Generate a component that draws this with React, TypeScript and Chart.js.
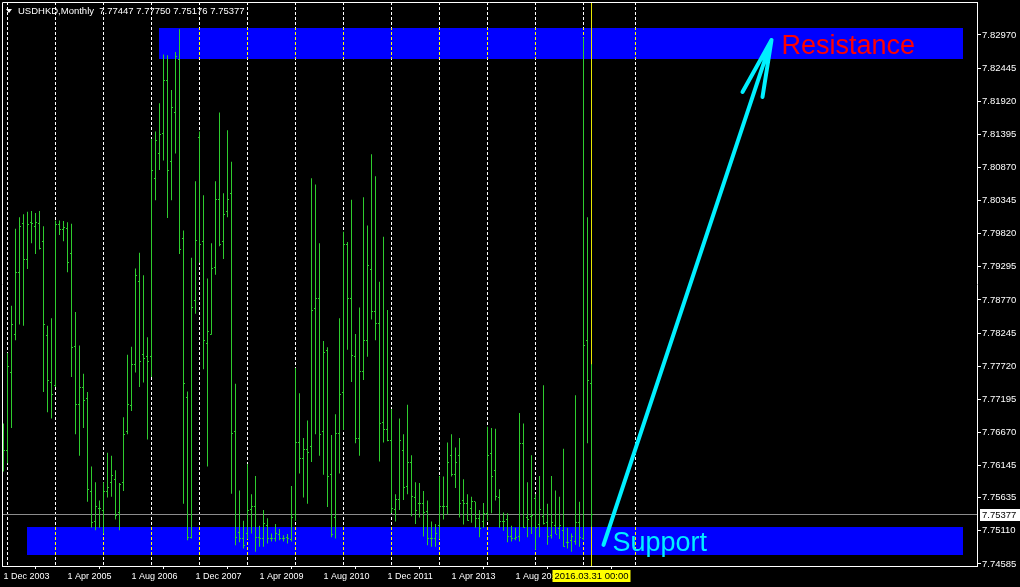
import React, { useEffect, useRef } from "react";
import { Chart, registerables } from "chart.js";

Chart.register(...registerables);

// ---------- DATA ----------
const symbolName = "USDHKD,Monthly";

// monthly bars, index 0 = Dec 2003, index 147 = Mar 2016
const opens = [
  7.7638, 7.7638, 7.7762, 7.7822, 7.7921, 7.7998, 7.7941, 7.8000, 7.7994, 7.7998,
  7.7969, 7.7820, 7.7746, 7.7741, 7.7997, 7.7989, 7.7990, 7.7950, 7.7803, 7.7711,
  7.7739, 7.7721, 7.7574, 7.7526, 7.7547, 7.7544, 7.7574, 7.7588, 7.7592, 7.7540,
  7.7587, 7.7669, 7.7709, 7.7774, 7.7906, 7.7790, 7.7787, 7.7787, 7.8070, 7.8109,
  7.8141, 7.8225, 7.8096, 7.8174, 7.8258, 7.7975, 7.7722, 7.7501, 7.7876, 7.8134,
  7.7970, 7.7808, 7.7823, 7.7929, 7.8036, 7.7969, 7.8017, 7.8046, 7.7668, 7.7509,
  7.7499, 7.7507, 7.7545, 7.7550, 7.7501, 7.7499, 7.7519, 7.7499, 7.7499, 7.7506,
  7.7499, 7.7501, 7.7498, 7.7537, 7.7651, 7.7625, 7.7640, 7.7645, 7.7863, 7.7879,
  7.7668, 7.7797, 7.7600, 7.7532, 7.7666, 7.7731, 7.7965, 7.7879, 7.7787, 7.7658,
  7.7764, 7.7812, 7.7926, 7.7858, 7.7840, 7.7683, 7.7671, 7.7655, 7.7545, 7.7560,
  7.7638, 7.7582, 7.7620, 7.7564, 7.7555, 7.7555, 7.7542, 7.7499, 7.7499, 7.7519,
  7.7550, 7.7550, 7.7630, 7.7600, 7.7631, 7.7559, 7.7555, 7.7547, 7.7557, 7.7531,
  7.7526, 7.7539, 7.7633, 7.7607, 7.7564, 7.7526, 7.7529, 7.7502, 7.7499, 7.7502,
  7.7650, 7.7532, 7.7534, 7.7562, 7.7521, 7.7534, 7.7524, 7.7504, 7.7519, 7.7514,
  7.7511, 7.7493, 7.7496, 7.7494, 7.7524, 7.7499, 7.7812, 7.77447,
];
const highs = [
  7.7681, 7.7793, 7.7868, 7.7990, 7.8008, 7.8013, 7.8017, 7.8018, 7.8015, 7.8018,
  7.7994, 7.7836, 7.7848, 7.8003, 7.8003, 7.8002, 7.8000, 7.7998, 7.7858, 7.7805,
  7.7760, 7.7731, 7.7613, 7.7588, 7.7559, 7.7588, 7.7635, 7.7630, 7.7607, 7.7587,
  7.7691, 7.7790, 7.7803, 7.7927, 7.7952, 7.7916, 7.7818, 7.8132, 7.8144, 7.8189,
  7.8266, 7.8265, 7.8210, 7.8270, 7.8306, 7.7987, 7.7732, 7.7944, 7.8065, 7.8144,
  7.8043, 7.7911, 7.7967, 7.8065, 7.8174, 7.8046, 7.8146, 7.8096, 7.7744, 7.7575,
  7.7527, 7.7617, 7.7569, 7.7598, 7.7519, 7.7544, 7.7531, 7.7507, 7.7522, 7.7514,
  7.7504, 7.7506, 7.7582, 7.7769, 7.7729, 7.7658, 7.7686, 7.8070, 7.8060, 7.7967,
  7.7812, 7.7802, 7.7663, 7.7696, 7.7848, 7.7985, 7.7969, 7.8036, 7.7823, 7.7865,
  7.8040, 7.7995, 7.8108, 7.8073, 7.7906, 7.7977, 7.7861, 7.7704, 7.7569, 7.7689,
  7.7664, 7.7711, 7.7631, 7.7588, 7.7587, 7.7574, 7.7559, 7.7526, 7.7522, 7.7598,
  7.7597, 7.7651, 7.7664, 7.7643, 7.7658, 7.7593, 7.7569, 7.7565, 7.7557, 7.7544,
  7.7555, 7.7676, 7.7674, 7.7673, 7.7577, 7.7540, 7.7539, 7.7519, 7.7516, 7.7698,
  7.7681, 7.7588, 7.7631, 7.7569, 7.7598, 7.7742, 7.7554, 7.7598, 7.7575, 7.7565,
  7.7641, 7.7516, 7.7507, 7.7726, 7.7557, 7.8293, 7.8008, 7.7775,
];
const lows = [
  7.7605, 7.7618, 7.7674, 7.7813, 7.7838, 7.7836, 7.7926, 7.7967, 7.7950, 7.7957,
  7.7731, 7.7699, 7.7689, 7.7739, 7.7980, 7.7970, 7.7921, 7.7755, 7.7664, 7.7630,
  7.7674, 7.7557, 7.7516, 7.7512, 7.7516, 7.7507, 7.7564, 7.7565, 7.7529, 7.7512,
  7.7574, 7.7664, 7.7701, 7.7762, 7.7739, 7.7746, 7.7656, 7.7755, 7.8035, 7.8083,
  7.8098, 7.8007, 7.8035, 7.8109, 7.7950, 7.7554, 7.7496, 7.7499, 7.7855, 7.7936,
  7.7767, 7.7613, 7.7822, 7.7917, 7.7962, 7.7942, 7.8008, 7.7570, 7.7488, 7.7493,
  7.7483, 7.7498, 7.7507, 7.7478, 7.7486, 7.7486, 7.7491, 7.7494, 7.7494, 7.7496,
  7.7494, 7.7491, 7.7494, 7.7527, 7.7602, 7.7564, 7.7554, 7.7620, 7.7664, 7.7630,
  7.7600, 7.7549, 7.7501, 7.7499, 7.7602, 7.7671, 7.7798, 7.7747, 7.7650, 7.7630,
  7.7750, 7.7787, 7.7846, 7.7813, 7.7621, 7.7651, 7.7653, 7.7539, 7.7526, 7.7544,
  7.7560, 7.7569, 7.7534, 7.7522, 7.7532, 7.7502, 7.7488, 7.7486, 7.7486, 7.7498,
  7.7529, 7.7537, 7.7597, 7.7579, 7.7532, 7.7521, 7.7527, 7.7524, 7.7516, 7.7501,
  7.7516, 7.7527, 7.7539, 7.7559, 7.7516, 7.7511, 7.7493, 7.7494, 7.7496, 7.7494,
  7.7516, 7.7501, 7.7506, 7.7481, 7.7501, 7.7521, 7.7489, 7.7499, 7.7506, 7.7498,
  7.7486, 7.7483, 7.7478, 7.7489, 7.7486, 7.7496, 7.7650, 7.75176,
];
const closes = [
  7.7638, 7.7772, 7.7838, 7.7921, 7.7994, 7.7941, 7.7997, 7.7998, 7.8000, 7.7959,
  7.7838, 7.7750, 7.7727, 7.7997, 7.7989, 7.7992, 7.7937, 7.7802, 7.7711, 7.7739,
  7.7717, 7.7577, 7.7524, 7.7549, 7.7547, 7.7574, 7.7580, 7.7598, 7.7536, 7.7585,
  7.7664, 7.7712, 7.7774, 7.7916, 7.7779, 7.7785, 7.7779, 7.8083, 7.8129, 7.8139,
  7.8225, 7.8083, 7.8182, 7.8263, 7.7957, 7.7744, 7.7501, 7.7865, 7.7972, 7.7965,
  7.7812, 7.7827, 7.7927, 7.8036, 7.7965, 7.8013, 7.8036, 7.7666, 7.7501, 7.7499,
  7.7488, 7.7544, 7.7550, 7.7501, 7.7499, 7.7522, 7.7499, 7.7499, 7.7507, 7.7499,
  7.7499, 7.7499, 7.7532, 7.7651, 7.7625, 7.7640, 7.7636, 7.7861, 7.7879, 7.7664,
  7.7793, 7.7597, 7.7506, 7.7666, 7.7727, 7.7965, 7.7879, 7.7789, 7.7658, 7.7764,
  7.7812, 7.7931, 7.7858, 7.7840, 7.7681, 7.7671, 7.7655, 7.7547, 7.7560, 7.7655,
  7.7580, 7.7620, 7.7565, 7.7544, 7.7555, 7.7540, 7.7499, 7.7499, 7.7507, 7.7550,
  7.7550, 7.7620, 7.7600, 7.7620, 7.7555, 7.7555, 7.7527, 7.7557, 7.7531, 7.7514,
  7.7539, 7.7631, 7.7597, 7.7565, 7.7526, 7.7526, 7.7502, 7.7499, 7.7501, 7.7650,
  7.7516, 7.7529, 7.7536, 7.7516, 7.7545, 7.7522, 7.7502, 7.7524, 7.7506, 7.7519,
  7.7486, 7.7493, 7.7502, 7.7524, 7.7501, 7.7805, 7.7749, 7.75377,
];

const xTickIndices = [0, 16, 32, 48, 64, 80, 96, 112, 128, 144];
const xTickLabels = [
  "1 Dec 2003", "1 Apr 2005", "1 Aug 2006", "1 Dec 2007", "1 Apr 2009",
  "1 Aug 2010", "1 Dec 2011", "1 Apr 2013", "1 Aug 2014", "1 Dec 2015",
];
const yTickLabels = [
  "7.82970", "7.82445", "7.81920", "7.81395", "7.80870", "7.80345", "7.79820",
  "7.79295", "7.78770", "7.78245", "7.77720", "7.77195", "7.76670", "7.76145",
  "7.75635", "7.75110", "7.74585",
];
const yMin = 7.74553;
const yMax = 7.83493;
const xMin = -0.375;
const xMax = 243.375;

// year separators (January bars)
const separatorIndices = [1, 13, 25, 37, 49, 61, 73, 85, 97, 109, 121, 133, 145, 158];

// drawn objects
const zoneFrom = [39, 6];
const zoneTo = [240, 240];
const zoneUpper = [7.83081, 7.75172];
const zoneLower = [7.8259, 7.74728];
const zoneTexts = ["Resistance", "Support"];
const zoneTextColors = ["#ff0000", "#00f0ff"];
const zoneTextIndex = [194.5, 152.25];
const zoneTextPrice = [7.82788, 7.7491];

const arrowIndex = [150, 192];
const arrowPrice = [7.74887, 7.82891];
const barbIndex = [184.75, 189.75];
const barbPrice = [7.82067, 7.81988];

const cursorIndex = 147;
const cursorLabel = "2016.03.31 00:00";

const GREEN = "#2ecc2e";
const FONT_FAMILY = '"Liberation Sans", Arial, sans-serif';
const SMALL_FONT = '9.5px ' + FONT_FAMILY;

function zeroPadding(scale: any) {
  scale.paddingLeft = 0;
  scale.paddingRight = 0;
  scale.paddingTop = 0;
  scale.paddingBottom = 0;
}

export default function App() {
  const ref = useRef<HTMLCanvasElement | null>(null);

  useEffect(() => {
    document.body.style.margin = "0";
    document.body.style.background = "#000";
    const canvas = ref.current;
    if (!canvas) return;

    const openImg = document.createElement("canvas");
    openImg.width = 3;
    openImg.height = 1;
    const oc = openImg.getContext("2d")!;
    oc.fillStyle = GREEN;
    oc.fillRect(0, 0, 1, 1);
    const closeImg = document.createElement("canvas");
    closeImg.width = 3;
    closeImg.height = 1;
    const cc = closeImg.getContext("2d")!;
    cc.fillStyle = GREEN;
    cc.fillRect(2, 0, 1, 1);

    const last = closes.length - 1;

    const overlay = {
      id: "overlay",
      beforeDraw(chart: any) {
        const { ctx, width, height } = chart;
        ctx.save();
        ctx.fillStyle = "#000";
        ctx.fillRect(0, 0, width, height);
        ctx.restore();
      },
      beforeDatasetsDraw(chart: any) {
        const { ctx, chartArea: a } = chart;
        const x = chart.scales.x;
        const y = chart.scales.y;
        ctx.save();
        ctx.fillStyle = "#0000ff";
        for (let k = 0; k < zoneFrom.length; k++) {
          const x0 = Math.round(x.getPixelForValue(zoneFrom[k]) - 0.5);
          const x1 = Math.round(x.getPixelForValue(zoneTo[k]) - 0.5);
          const y0 = Math.round(y.getPixelForValue(zoneUpper[k]));
          const y1 = Math.round(y.getPixelForValue(zoneLower[k]));
          ctx.fillRect(x0, y0, x1 - x0, y1 - y0);
        }
        ctx.globalCompositeOperation = "difference";
        ctx.strokeStyle = "#ffffff";
        ctx.lineWidth = 1;
        ctx.setLineDash([3, 2]);
        for (const idx of separatorIndices) {
          const px = Math.floor(x.getPixelForValue(idx)) + 0.5;
          if (px > a.right || px < a.left) continue;
          ctx.beginPath();
          ctx.moveTo(px, a.top);
          ctx.lineTo(px, a.bottom);
          ctx.stroke();
        }
        ctx.globalCompositeOperation = "source-over";
        ctx.setLineDash([]);
        // vertical line object
        const cx = Math.floor(x.getPixelForValue(cursorIndex)) + 0.5;
        ctx.strokeStyle = "#e8e800";
        ctx.beginPath();
        ctx.moveTo(cx, a.top);
        ctx.lineTo(cx, a.bottom);
        ctx.stroke();
        // bid line
        const by = Math.floor(y.getPixelForValue(closes[last])) + 0.5;
        ctx.strokeStyle = "#8c8c8c";
        ctx.beginPath();
        ctx.moveTo(a.left, by);
        ctx.lineTo(a.right, by);
        ctx.stroke();
        ctx.restore();
      },
      afterDraw(chart: any) {
        const { ctx, chartArea: a } = chart;
        const x = chart.scales.x;
        const y = chart.scales.y;
        ctx.save();
        // frame (left / top)
        ctx.strokeStyle = "#ffffff";
        ctx.lineWidth = 1;
        ctx.beginPath();
        ctx.moveTo(a.left + 0.5, a.bottom);
        ctx.lineTo(a.left + 0.5, a.top + 0.5);
        ctx.lineTo(a.right, a.top + 0.5);
        ctx.stroke();

        // arrow
        ctx.strokeStyle = "#00f0ff";
        ctx.lineWidth = 4;
        ctx.lineCap = "round";
        ctx.lineJoin = "round";
        const ax0 = x.getPixelForValue(arrowIndex[0]);
        const ay0 = y.getPixelForValue(arrowPrice[0]);
        const ax1 = x.getPixelForValue(arrowIndex[1]);
        const ay1 = y.getPixelForValue(arrowPrice[1]);
        ctx.beginPath();
        ctx.moveTo(ax0, ay0);
        ctx.lineTo(ax1, ay1);
        for (let k = 0; k < barbIndex.length; k++) {
          ctx.moveTo(ax1, ay1);
          ctx.lineTo(x.getPixelForValue(barbIndex[k]), y.getPixelForValue(barbPrice[k]));
        }
        ctx.stroke();

        // zone labels
        ctx.font = "27px " + FONT_FAMILY;
        ctx.textBaseline = "middle";
        ctx.textAlign = "left";
        for (let k = 0; k < zoneTexts.length; k++) {
          ctx.fillStyle = zoneTextColors[k];
          ctx.fillText(
            zoneTexts[k],
            x.getPixelForValue(zoneTextIndex[k]),
            y.getPixelForValue(zoneTextPrice[k])
          );
        }

        // bid label
        const by = Math.floor(y.getPixelForValue(closes[last]));
        ctx.fillStyle = "#ffffff";
        ctx.fillRect(a.right + 3, by - 5, 42, 12);
        ctx.fillStyle = "#000000";
        ctx.font = SMALL_FONT;
        ctx.textBaseline = "middle";
        ctx.fillText(closes[last].toFixed(5), a.right + 5, by + 1);

        // time label
        const cx = Math.floor(x.getPixelForValue(cursorIndex)) + 0.5;
        ctx.fillStyle = "#ffff00";
        ctx.fillRect(cx - 39, a.bottom + 4, 78, 12);
        ctx.fillStyle = "#000000";
        ctx.textAlign = "center";
        ctx.fillText(cursorLabel, cx, a.bottom + 10.5);

        // header
        ctx.fillStyle = "#ffffff";
        ctx.beginPath();
        ctx.moveTo(6, 9);
        ctx.lineTo(12, 9);
        ctx.lineTo(9, 13);
        ctx.closePath();
        ctx.fill();
        ctx.textAlign = "left";
        ctx.font = SMALL_FONT;
        const header =
          symbolName +
          "  " +
          [opens[last], highs[last], lows[last], closes[last]].map((v) => v.toFixed(5)).join(" ");
        ctx.fillText(header, 18, 11);
        ctx.restore();
      },
    };

    const chart = new Chart(canvas, {
      type: "bar",
      data: {
        datasets: [
          {
            type: "bar",
            data: highs.map((h, i) => ({ x: i, y: [lows[i], h] })) as any,
            backgroundColor: GREEN,
            borderWidth: 0,
            barThickness: 1,
            inflateAmount: 0,
            order: 2,
          } as any,
          {
            type: "scatter",
            data: opens.map((v, i) => ({ x: i, y: v })),
            pointStyle: openImg,
            pointRadius: 1,
            pointHoverRadius: 1,
            showLine: false,
            order: 1,
          } as any,
          {
            type: "scatter",
            data: closes.map((v, i) => ({ x: i, y: v })),
            pointStyle: closeImg,
            pointRadius: 1,
            pointHoverRadius: 1,
            showLine: false,
            order: 1,
          } as any,
        ],
      },
      options: {
        animation: false,
        responsive: false,
        devicePixelRatio: 1,
        events: [],
        layout: { autoPadding: false, padding: { left: 2, top: 2, right: 0, bottom: 0 } },
        plugins: { legend: { display: false }, tooltip: { enabled: false } },
        scales: {
          x: {
            type: "linear",
            min: xMin,
            max: xMax,
            offset: false,
            afterBuildTicks: (scale: any) => {
              scale.ticks = xTickIndices.map((v) => ({ value: v }));
            },
            afterFit: (scale: any) => {
              scale.height = 21;
              zeroPadding(scale);
            },
            ticks: {
              autoSkip: false,
              maxRotation: 0,
              minRotation: 0,
              align: "start",
              padding: 2,
              color: "#ffffff",
              font: { family: FONT_FAMILY, size: 9 },
              callback: (_v: any, i: number) => xTickLabels[i],
            },
            grid: {
              display: true,
              drawOnChartArea: false,
              drawTicks: true,
              tickLength: 3,
              color: "#ffffff",
            },
            border: { display: true, color: "#ffffff", width: 1 },
          },
          y: {
            type: "linear",
            position: "right",
            min: yMin,
            max: yMax,
            afterBuildTicks: (scale: any) => {
              scale.ticks = yTickLabels.map((s) => ({ value: parseFloat(s) }));
            },
            afterFit: (scale: any) => {
              scale.width = 43;
              zeroPadding(scale);
            },
            ticks: {
              autoSkip: false,
              padding: 1,
              color: "#ffffff",
              font: { family: FONT_FAMILY, size: 9.5 },
              callback: (_v: any, i: number) => yTickLabels[i],
            },
            grid: {
              display: true,
              drawOnChartArea: false,
              drawTicks: true,
              tickLength: 4,
              color: "#ffffff",
            },
            border: { display: true, color: "#ffffff", width: 1 },
          },
        },
      } as any,
      plugins: [overlay],
    });

    return () => chart.destroy();
  }, []);

  return (
    <div style={{ width: 1020, height: 587, background: "#000" }}>
      <canvas ref={ref} width={1020} height={587} style={{ display: "block" }} />
    </div>
  );
}
